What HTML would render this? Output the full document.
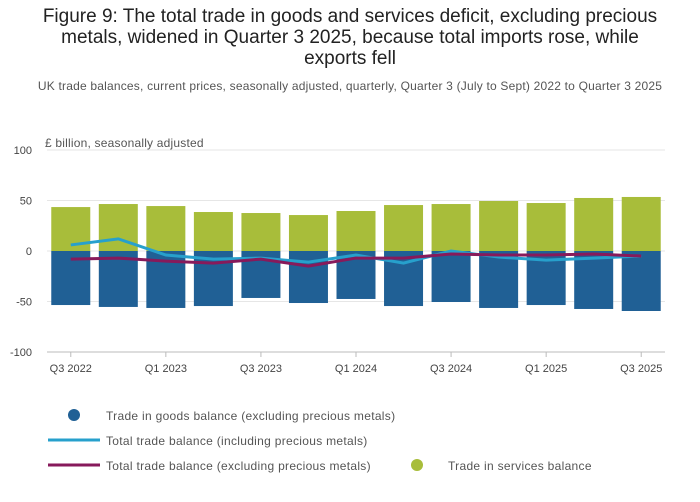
<!DOCTYPE html>
<html><head><meta charset="utf-8">
<style>
body{margin:0;background:#fff;font-family:"Liberation Sans",sans-serif;}
#wrap{position:relative;width:700px;height:502px;overflow:hidden;}
.title{position:absolute;left:0;width:700px;top:6px;text-align:center;font-size:19px;line-height:21px;color:#222;}
.sub{position:absolute;left:0;width:700px;top:79px;text-align:center;font-size:12px;color:#555;letter-spacing:0.2px;}
</style></head><body>
<div id="wrap">
<div class="title">Figure 9: The total trade in goods and services deficit, excluding precious<br>metals, widened in Quarter 3 2025, because total imports rose, while<br>exports fell</div>
<div class="sub">UK trade balances, current prices, seasonally adjusted, quarterly, Quarter 3 (July to Sept) 2022 to Quarter 3 2025</div>
<svg id="chart" width="700" height="502" style="position:absolute;left:0;top:0"></svg>
</div>
<script>
const categories=["Q3 2022","Q4 2022","Q1 2023","Q2 2023","Q3 2023","Q4 2023","Q1 2024","Q2 2024","Q3 2024","Q4 2024","Q1 2025","Q2 2025","Q3 2025"];
const tickLabels=["Q3 2022","Q1 2023","Q3 2023","Q1 2024","Q3 2024","Q1 2025","Q3 2025"];
const yTicks=[100,50,0,-50,-100];
const services=[43.5,46.5,44.5,38.6,37.6,35.6,39.6,45.5,46.5,49.5,47.5,52.5,53.5];
const goods=[-53.5,-55.4,-56.4,-54.5,-46.5,-51.5,-47.5,-54.5,-50.5,-56.4,-53.5,-57.4,-59.4];
const totalIncl=[6,12,-4,-8,-7,-11,-4,-12,0,-6,-9,-7,-5];
const totalExcl=[-8,-7,-10,-12,-8,-15,-7,-7,-3,-4,-4,-3,-5];

const NS="http://www.w3.org/2000/svg";
const svg=document.getElementById('chart');
const X0=47,X1=665,Y0=150,Y1=352;
const step=(X1-X0)/categories.length;
const x=i=>X0+step*(i+0.5);
const y=v=>Y0+(100-v)/200*(Y1-Y0);
function el(t,a,p){const e=document.createElementNS(NS,t);for(const k in a)e.setAttribute(k,a[k]);(p||svg).appendChild(e);return e;}
yTicks.forEach(v=>{
 const g=el('line',{x1:X0,x2:X1,y1:y(v),y2:y(v),stroke:v===-100?'#bbb':'#e6e6e6','stroke-width':1});
 
 
 const t=el('text',{x:32,y:y(v)+4,'text-anchor':'end','font-size':11,fill:'#444'});
 t.textContent=v;
 
 
});
const u=el('text',{x:45,y:147,'font-size':12,fill:'#555','letter-spacing':0.2});u.textContent='£ billion, seasonally adjusted';


const bw=39;
categories.forEach((c,i)=>{
 const s=el('rect',{x:x(i)-bw/2,y:y(services[i]),width:bw,height:y(0)-y(services[i]),fill:'#A8BD3A'});
 
 
 const g=el('rect',{x:x(i)-bw/2,y:y(0),width:bw,height:y(goods[i])-y(0),fill:'#206095'});
 
 
 if(tickLabels.includes(c)){
  const tk=el('line',{x1:x(i),x2:x(i),y1:Y1,y2:Y1+5,stroke:'#bbb'});
  
  
  const t=el('text',{x:x(i),y:372,'text-anchor':'middle','font-size':11,fill:'#444'});t.textContent=c;
  
  
 }
});
function line(d,col,name){
 const p=el('polyline',{points:d.map((v,i)=>x(i)+','+y(v)).join(' '),fill:'none',stroke:col,'stroke-width':3});
 
 
}
line(totalIncl,'#27A0CC','total-incl-line');
line(totalExcl,'#871A5B','total-excl-line');
function lt(tx,xx,yy,n){const t=el('text',{x:xx,y:yy,'font-size':12,fill:'#555','letter-spacing':0.3});t.textContent=tx;
 
 }
const c1=el('circle',{cx:74,cy:415,r:6,fill:'#206095'});


lt('Trade in goods balance (excluding precious metals)',106,420,'legend-goods');
const l1=el('line',{x1:48,x2:100,y1:440,y2:440,stroke:'#27A0CC','stroke-width':3});


lt('Total trade balance (including precious metals)',106,445,'legend-incl');
const l2=el('line',{x1:48,x2:100,y1:465,y2:465,stroke:'#871A5B','stroke-width':3});


lt('Total trade balance (excluding precious metals)',106,470,'legend-excl');
const c2=el('circle',{cx:417,cy:465,r:6,fill:'#A8BD3A'});


lt('Trade in services balance',448,470,'legend-services');
</script>
</body></html>
